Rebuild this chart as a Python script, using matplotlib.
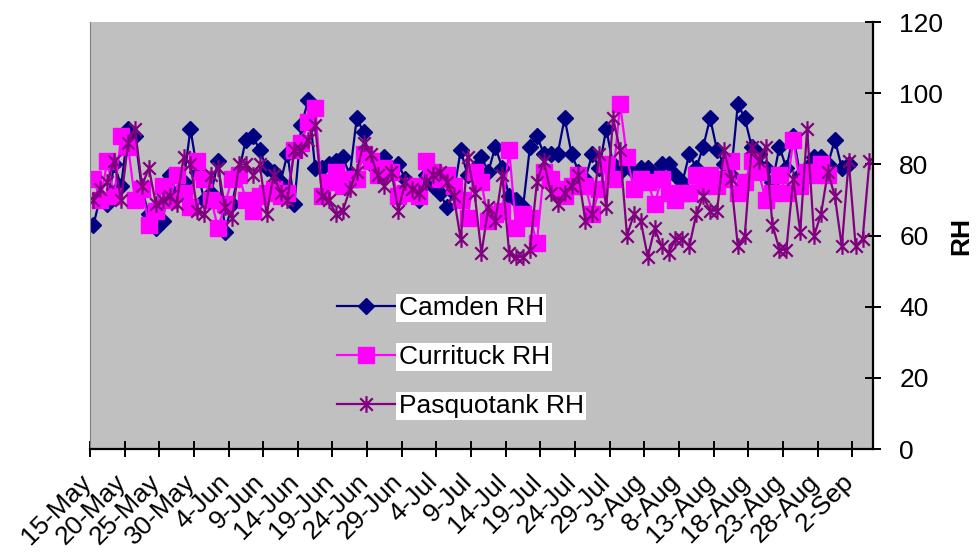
import numpy as np
import pandas as pd
import matplotlib
matplotlib.use('Agg')
import matplotlib.pyplot as plt
from matplotlib.path import Path
from matplotlib.ticker import FuncFormatter, MultipleLocator
from matplotlib.transforms import ScaledTranslation

plt.rcParams['font.family'] = ['Liberation Sans', 'DejaVu Sans']

# daily relative humidity (%), first day 15-May
start_day = '2000-05-15'
series_names = ['Camden RH', 'Currituck RH', 'Pasquotank RH']

camden = [63, 71, 69, 80, 74, 90, 88, 73, 66, 62, 64, 77, 72, 75, 90, 78, 70, 72, 81, 61,
          69, 78, 87, 88, 84, 79, 78, 75, 83, 69, 91, 98, 79, 79, 80, 81, 82, 77, 93, 89,
          80, 78, 82, 79, 80, 76, 73, 70, 77, 74, 72, 68, 72, 84, 77, 79, 82, 78, 85, 79,
          71, 70, 68, 85, 88, 83, 83, 83, 93, 83, 78, 76, 83, 79, 90, 80, 78, 80, 78, 79,
          79, 77, 80, 80, 77, 75, 83, 79, 85, 93, 84, 80, 77, 97, 93, 85, 83, 79, 75, 85,
          79, 88, 77, 79, 82, 82, 80, 87, 79, 80]

currituck = [76, 70, 81, 71, 88, 85, 70, 73, 63, 67, 74, 70, 77, 72, 68, 81, 76, 70, 62, 69,
             76, 77, 70, 67, 71, 72, 73, 71, 72, 84, 86, 92, 96, 71, 75, 78, 74, 76, 76, 83,
             81, 77, 79, 78, 71, 72, 74, 71, 81, 78, 76, 77, 74, 70, 65, 78, 75, 64, 66, 67,
             84, 62, 66, 65, 58, 78, 76, 73, 71, 74, 77, 74, 66, 73, 80, 76, 97, 82, 73, 76,
             75, 69, 76, 72, 70, 72, 72, 77, 74, 77, 74, 76, 81, 72, 75, 81, 78, 70, 72, 77,
             72, 87, 74, 78, 77, 80, 77]

pasquotank = [70, 73, 75, 81, 70, 86, 90, 74, 79, 69, 70, 71, 69, 82, 80, 67, 66, 77, 79, 68,
              65, 80, 80, 77, 80, 66, 77, 72, 70, 84, 84, 87, 91, 71, 70, 66, 67, 73, 78, 86,
              83, 77, 74, 78, 67, 75, 73, 72, 75, 77, 78, 75, 71, 59, 82, 72, 55, 68, 64, 77,
              55, 54, 54, 56, 75, 81, 72, 69, 72, 74, 77, 64, 66, 83, 68, 93, 84, 60, 66, 64,
              54, 62, 57, 55, 59, 59, 57, 66, 71, 67, 67, 84, 76, 57, 60, 85, 81, 85, 63, 56,
              56, 76, 61, 90, 60, 66, 78, 71, 57, 81, 57, 59, 81]

n_days = len(pasquotank)
dates = pd.date_range(start_day, periods=n_days, freq='D')
centres = dates + pd.Timedelta(hours=12)


def padded(vals):
    return np.r_[np.asarray(vals, float), np.full(n_days - len(vals), np.nan)]


# Excel-style asterisk: vertical bar plus an X
star = Path([(0, -1), (0, 1), (-0.75, -0.75), (0.75, 0.75), (-0.75, 0.75), (0.75, -0.75)],
            [Path.MOVETO, Path.LINETO] * 3)

fig = plt.figure(figsize=(9.78, 5.54), dpi=100)
ax = fig.add_axes([0.092, 0.1895, 0.8006, 0.7705])
ax.set_facecolor('#C0C0C0')

ax.plot(centres, padded(camden), color='#000080', lw=1.6, marker='D', ms=8.5,
        mfc='#000080', mec='#000080', label=series_names[0])
ax.plot(centres, padded(currituck), color='#FF00FF', lw=1.6, marker='s', ms=11,
        mfc='#FF00FF', mec='#FF00FF', label=series_names[1])
ax.plot(centres, padded(pasquotank), color='#800080', lw=1.6, marker=star, ms=12,
        mfc='none', mec='#800080', mew=1.6, label=series_names[2])

ax.set_xlim(dates[0], dates[-1] + pd.Timedelta(days=1))
ax.set_ylim(0, 120)
ax.yaxis.set_major_locator(MultipleLocator(20))
ax.set_xticks(pd.date_range(start_day, '2000-09-02', freq='5D'))
ax.xaxis.set_major_formatter(FuncFormatter(
    lambda v, pos: f"{matplotlib.dates.num2date(v).day}-{matplotlib.dates.num2date(v):%b}"))

ax.yaxis.tick_right()
ax.yaxis.set_label_position('right')
ax.set_ylabel('RH', fontsize=19, fontweight='bold', labelpad=4)

ax.tick_params(axis='x', direction='inout', length=11.5, width=1.4, labelsize=19,
               labelrotation=45, pad=9)
ax.tick_params(axis='y', direction='inout', length=12, width=1.4, labelsize=19, pad=13)
shift = ScaledTranslation(-8 / 72, 0, fig.dpi_scale_trans)
for lbl in ax.get_xticklabels():
    lbl.set_ha('right')
    lbl.set_rotation_mode('anchor')
    lbl.set_transform(lbl.get_transform() + shift)

ax.spines['top'].set_visible(False)
ax.spines['left'].set_color('#808080')
ax.spines['bottom'].set_linewidth(1.6)
ax.spines['right'].set_linewidth(1.6)

leg = ax.legend(loc='upper left', bbox_to_anchor=(0.298, 0.39), frameon=False,
                fontsize=19, handlelength=2.2, handletextpad=0.15, labelspacing=0.95,
                borderpad=0)
for t in leg.get_texts():
    t.set_bbox(dict(facecolor='white', edgecolor='none', pad=1.5))

fig.savefig('out.png', dpi=100)
